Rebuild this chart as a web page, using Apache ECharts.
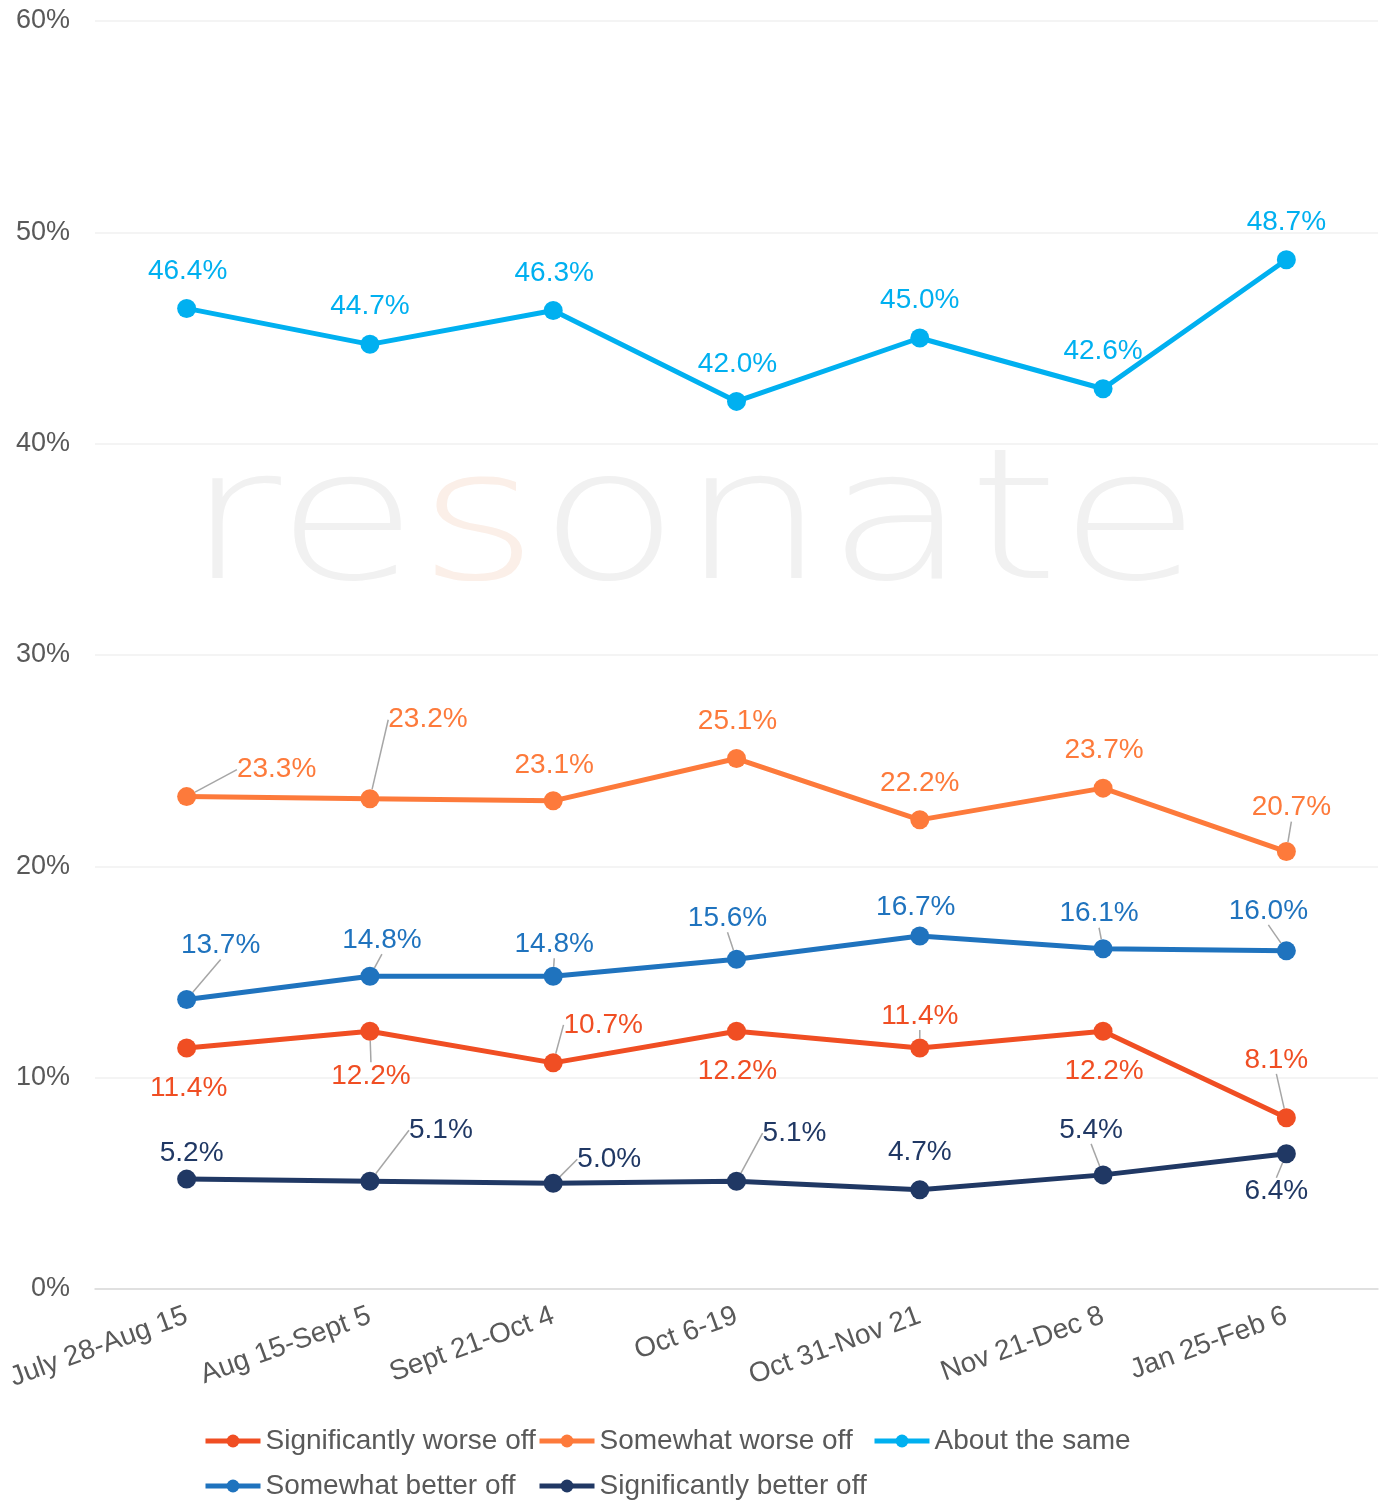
<!DOCTYPE html>
<html>
<head>
<meta charset="utf-8">
<style>
  html, body { margin: 0; padding: 0; background: #fff; }
  #chart { width: 1385px; height: 1502px; }
</style>
<script src="https://cdn.jsdelivr.net/npm/echarts@6/dist/echarts.min.js"></script>
</head>
<body>
<div id="chart"></div>
<script>
// categories
var periods = ['July 28-Aug 15', 'Aug 15-Sept 5', 'Sept 21-Oct 4', 'Oct 6-19', 'Oct 31-Nov 21', 'Nov 21-Dec 8', 'Jan 25-Feb 6'];

// series values (%)
var sigWorse = [11.4, 12.2, 10.7, 12.2, 11.4, 12.2, 8.1];
var someWorse = [23.3, 23.2, 23.1, 25.1, 22.2, 23.7, 20.7];
var aboutSame = [46.4, 44.7, 46.3, 42.0, 45.0, 42.6, 48.7];
var someBetter = [13.7, 14.8, 14.8, 15.6, 16.7, 16.1, 16.0];
var sigBetter = [5.2, 5.1, 5.0, 5.1, 4.7, 5.4, 6.4];

// y axis ticks
var yTicks = [0, 10, 20, 30, 40, 50, 60];

// label placement: [dx, dy, leader line?] relative to the point
var offSigWorse = [[2, 40, 0], [1, 45, 1], [50, -38, 1], [1, 40, 0], [0, -32, 1], [1, 40, 0], [-10, -58, 1]];
var offSomeWorse = [[90, -27, 1], [58, -79, 1], [1, -36, 0], [1, -37, 0], [0, -37, 0], [1, -38, 0], [5, -44, 1]];
var offAboutSame = [[1, -37, 0], [0, -38, 0], [1, -37, 0], [1, -37, 0], [0, -38, 0], [0, -37, 0], [0, -38, 0]];
var offSomeBetter = [[34, -54, 1], [12, -36, 1], [1, -32, 1], [-9, -41, 1], [-4, -29, 0], [-4, -35, 1], [-18, -40, 1]];
var offSigBetter = [[5, -26, 0], [71, -51, 1], [56, -24, 1], [58, -48, 1], [0, -37, 0], [-12, -45, 1], [-10, 38, 1]];

var FONT = 'Liberation Sans, Arial, sans-serif';

function makeSeries(name, values, offsets, color) {
  return {
    name: name,
    type: 'line',
    data: values.map(function (v, i) {
      return { value: v, labelLine: { show: !!offsets[i][2] } };
    }),
    symbol: 'circle',
    symbolSize: 19,
    lineStyle: { width: 5, color: color },
    itemStyle: { color: color },
    label: {
      show: true,
      color: color,
      fontSize: 28,
      fontFamily: FONT,
      formatter: function (p) { return p.value.toFixed(1) + '%'; }
    },
    labelLine: { show: true, lineStyle: { color: '#a6a6a6', width: 1.5 } },
    labelLayout: function (p) {
      var o = offsets[p.dataIndex];
      return {
        x: p.rect.x + p.rect.width / 2 + o[0],
        y: p.rect.y + p.rect.height / 2 + o[1],
        align: 'center',
        verticalAlign: 'middle'
      };
    },
    emphasis: { disabled: true },
    z: 3
  };
}

var legendBase = {
  itemWidth: 55,
  itemHeight: 16,
  itemGap: 0,
  lineStyle: { width: 5 },
  textStyle: { fontSize: 28, color: '#595959', fontFamily: FONT },
  selectedMode: false
};
function legendAt(name, left, top) {
  return Object.assign({}, legendBase, { data: [name], left: left, top: top });
}

var chart = echarts.init(document.getElementById('chart'));
chart.setOption({
  animation: false,
  backgroundColor: '#ffffff',
  textStyle: { fontFamily: FONT },
  graphic: [{
    type: 'text',
    left: 186,
    top: 440,
    z: 0,
    silent: true,
    scaleX: 1.27,
    style: {
      text: '{a|re}{b|s}{a|onate}',
      rich: {
        a: { fontSize: 182, fontWeight: 200, fontFamily: 'DejaVu Sans', fill: '#f1f1f1', color: '#f1f1f1' },
        b: { fontSize: 182, fontWeight: 200, fontFamily: 'DejaVu Sans', fill: '#fbefe8', color: '#fbefe8' }
      }
    }
  }],
  grid: { left: 95, right: 7, top: 21, bottom: 213, containLabel: false },
  xAxis: {
    type: 'category',
    data: periods,
    boundaryGap: true,
    axisLine: { lineStyle: { color: '#d9d9d9', width: 1.5 } },
    axisTick: { show: false },
    axisLabel: {
      rotate: 20,
      interval: 0,
      margin: 26,
      fontSize: 28,
      color: '#595959',
      fontFamily: FONT
    }
  },
  yAxis: {
    type: 'value',
    min: yTicks[0],
    max: yTicks[yTicks.length - 1],
    interval: 10,
    axisLine: { show: false },
    axisTick: { show: false },
    splitLine: { lineStyle: { color: '#f0f0f0', width: 1.5 } },
    axisLabel: {
      margin: 25,
      fontSize: 27,
      color: '#595959',
      fontFamily: FONT,
      formatter: '{value}%'
    }
  },
  legend: [
    legendAt('Significantly worse off', 198, 1422),
    legendAt('Somewhat worse off', 532, 1422),
    legendAt('About the same', 867, 1422),
    legendAt('Somewhat better off', 198, 1467),
    legendAt('Significantly better off', 532, 1467)
  ],
  series: [
    makeSeries('Significantly worse off', sigWorse, offSigWorse, '#f04e23'),
    makeSeries('Somewhat worse off', someWorse, offSomeWorse, '#fd7a3b'),
    makeSeries('About the same', aboutSame, offAboutSame, '#00b0f0'),
    makeSeries('Somewhat better off', someBetter, offSomeBetter, '#1f73be'),
    makeSeries('Significantly better off', sigBetter, offSigBetter, '#203864')
  ]
});
</script>
</body>
</html>
